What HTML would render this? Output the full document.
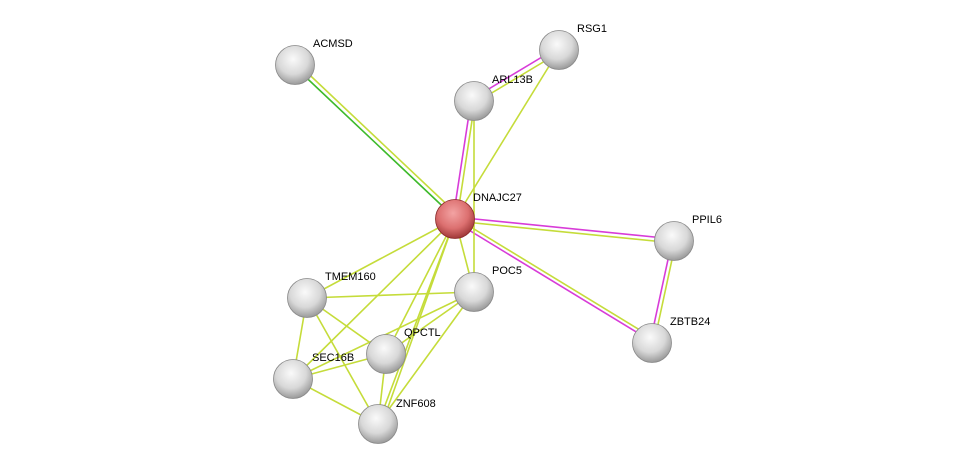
<!DOCTYPE html>
<html><head><meta charset="utf-8"><style>
html,body{margin:0;padding:0;background:#fff;width:975px;height:470px;overflow:hidden}
svg{display:block}
text{font-family:"Liberation Sans",sans-serif;font-size:11px;fill:#000}
</style></head><body>
<svg width="975" height="470" viewBox="0 0 975 470">
<defs>
<radialGradient id="g" cx="0.45" cy="0.35" r="0.65">
<stop offset="0" stop-color="#fafafa"/><stop offset="0.6" stop-color="#d8d8d8"/><stop offset="1" stop-color="#9a9a9a"/>
</radialGradient>
<radialGradient id="r" cx="0.45" cy="0.35" r="0.65">
<stop offset="0" stop-color="#f3a3a3"/><stop offset="0.6" stop-color="#dc7070"/><stop offset="1" stop-color="#a03838"/>
</radialGradient>
</defs>
<g stroke-width="1.6" fill="none">
<!-- double green -->
<line x1="294" y1="66" x2="455" y2="218" stroke="#3dba2a"/>
<line x1="297" y1="63" x2="458" y2="215" stroke="#c5dc3a"/>
<!-- magenta/yellow pairs -->
<line x1="557" y1="48" x2="472" y2="99" stroke="#d83cd8"/>
<line x1="560" y1="52" x2="475" y2="103" stroke="#c5dc3a"/>
<line x1="471" y1="101" x2="453" y2="219" stroke="#d83cd8"/>
<line x1="475" y1="101" x2="457" y2="219" stroke="#c5dc3a"/>
<line x1="455" y1="217" x2="674" y2="239" stroke="#d83cd8"/>
<line x1="455" y1="221" x2="674" y2="243" stroke="#c5dc3a"/>
<line x1="454" y1="221" x2="651" y2="341" stroke="#d83cd8"/>
<line x1="456" y1="218" x2="653" y2="338" stroke="#c5dc3a"/>
<line x1="672" y1="241" x2="650" y2="343" stroke="#d83cd8"/>
<line x1="676" y1="241" x2="654" y2="343" stroke="#c5dc3a"/>
<g stroke="#c5dc3a">
<line x1="559" y1="50" x2="455" y2="219"/>
<line x1="474" y1="101" x2="474" y2="292"/>
<line x1="455" y1="219" x2="474" y2="292"/>
<line x1="455" y1="219" x2="307" y2="298"/>
<line x1="455" y1="219" x2="293" y2="379"/>
<line x1="455" y1="219" x2="386" y2="354"/>
<line x1="455" y1="219" x2="378" y2="424"/>
<line x1="455" y1="219" x2="382" y2="424"/>
<line x1="307" y1="298" x2="474" y2="292"/>
<line x1="307" y1="298" x2="386" y2="354"/>
<line x1="307" y1="298" x2="293" y2="379"/>
<line x1="307" y1="298" x2="378" y2="424"/>
<line x1="293" y1="379" x2="386" y2="354"/>
<line x1="293" y1="379" x2="474" y2="292"/>
<line x1="293" y1="379" x2="378" y2="424"/>
<line x1="386" y1="354" x2="474" y2="292"/>
<line x1="386" y1="354" x2="378" y2="424"/>
<line x1="474" y1="292" x2="378" y2="424"/>
</g>
</g>
<g stroke="#888" stroke-width="0.8">
<circle cx="295" cy="65" r="19.5" fill="url(#g)"/>
<circle cx="559" cy="50" r="19.5" fill="url(#g)"/>
<circle cx="474" cy="101" r="19.5" fill="url(#g)"/>
<circle cx="455" cy="219" r="19.5" fill="url(#r)" stroke="#8a2a2a"/>
<circle cx="674" cy="241" r="19.5" fill="url(#g)"/>
<circle cx="474" cy="292" r="19.5" fill="url(#g)"/>
<circle cx="307" cy="298" r="19.5" fill="url(#g)"/>
<circle cx="386" cy="354" r="19.5" fill="url(#g)"/>
<circle cx="652" cy="343" r="19.5" fill="url(#g)"/>
<circle cx="293" cy="379" r="19.5" fill="url(#g)"/>
<circle cx="378" cy="424" r="19.5" fill="url(#g)"/>
</g>
<text x="313" y="47">ACMSD</text>
<text x="577" y="32">RSG1</text>
<text x="492" y="83">ARL13B</text>
<text x="473" y="201">DNAJC27</text>
<text x="692" y="223">PPIL6</text>
<text x="492" y="274">POC5</text>
<text x="325" y="280">TMEM160</text>
<text x="404" y="336">QPCTL</text>
<text x="670" y="325">ZBTB24</text>
<text x="312" y="361">SEC16B</text>
<text x="396" y="407">ZNF608</text>
</svg>
</body></html>
